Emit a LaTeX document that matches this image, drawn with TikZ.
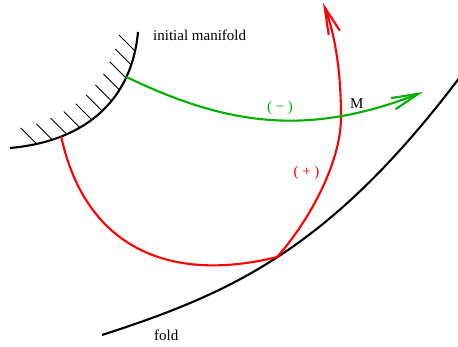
\documentclass[tikz,border=0pt]{standalone}
\usepackage{fontspec}
\setmainfont{Liberation Serif}
\usetikzlibrary{arrows.meta}
\definecolor{Leaf}{rgb}{0.0, 0.69, 0.0}

\begin{document}
\begin{tikzpicture}[x=1pt, y=-1pt, font=\fontsize{15}{18}\selectfont,
  curve/.style={line width=2.1pt},
  hatchline/.style={black, line width=0.9pt},
  flowarrow/.style={-{Straight Barb[length=27pt, width=12pt]}}]

  \useasboundingbox (0,0) rectangle (458,347);

  % -------------------------------------------------------
  % Initial manifold, hatched on its upper-left side
  % -------------------------------------------------------
  \foreach \p in {0.12,0.198,...,0.91} {
    \path (10,148) .. controls (88,141) and (132,98) .. (138,32)
      coordinate[pos=\p] (h);
    \draw[hatchline] (h) -- ++(-16,-16);
  }
  \draw[curve] (10,148) .. controls (88,141) and (132,98) .. (138,32)
    coordinate[pos=0.245] (redstart)
    coordinate[pos=0.75] (greenstart);
  \node[anchor=base west, inner sep=0pt] (initlabel) at (153,41)
    {initial manifold};

  % -------------------------------------------------------
  % Fold curve
  % -------------------------------------------------------
  \draw[curve] (102,335) .. controls (232,293) and (330,249) .. (460,77);
  \node[anchor=base west, inner sep=0pt] (foldlabel) at (154,341) {fold};

  % fold point, crossing point and arrow tips
  \coordinate (foldpt) at (277,257);
  \coordinate (M) at (341,117);
  \coordinate (redtip) at (323,3);
  \coordinate (greentip) at (423,92);

  % -------------------------------------------------------
  % (+) trajectory: touches the fold, then up through M
  % -------------------------------------------------------
  \draw[curve, red, flowarrow] (redstart)
    .. controls (86,250) and (172,283) .. (foldpt)
    .. controls (306,225) and (341,165) .. (M)
    .. controls (341,80) and (337,40) .. (redtip);
  \node[red, inner sep=0pt] (pluslabel) at (306.5,173) {( + )};

  % -------------------------------------------------------
  % (-) trajectory through M
  % -------------------------------------------------------
  \draw[curve, Leaf, flowarrow] (greenstart)
    .. controls (227,125.5) and (308,137) .. (greentip);
  \node[Leaf, inner sep=0pt] (minuslabel) at (280,108) {( − )};
  \node[anchor=base west, inner sep=0pt] (mlabel) at (350,109) {M};

\end{tikzpicture}
\end{document}
